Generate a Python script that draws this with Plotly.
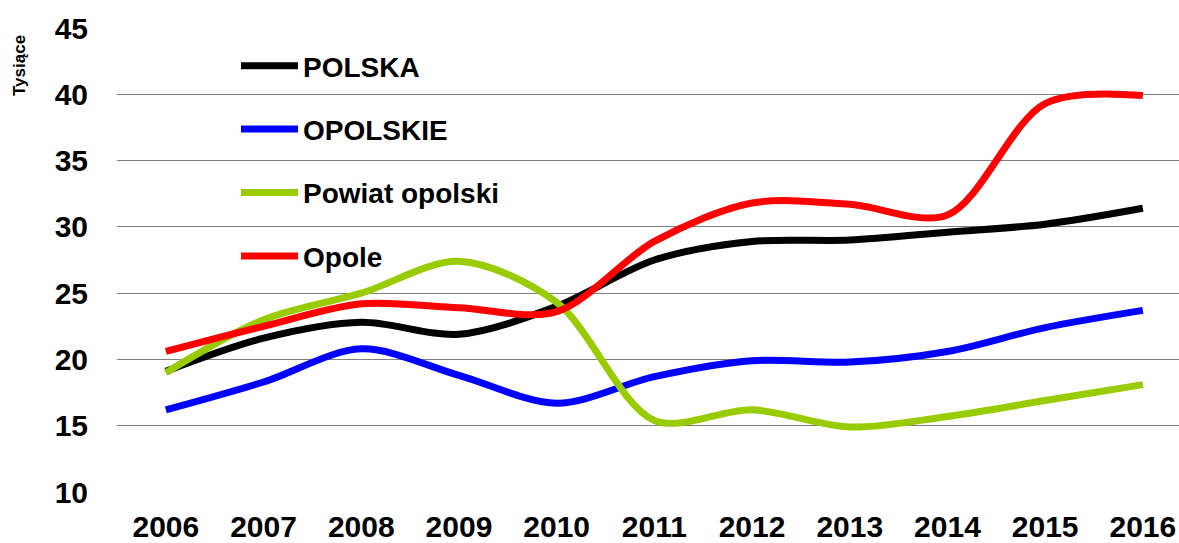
import plotly.graph_objects as go

years = ["2006", "2007", "2008", "2009", "2010", "2011", "2012", "2013", "2014", "2015", "2016"]
polska = [19.1, 21.6, 22.8, 21.9, 24.0, 27.5, 28.9, 29.0, 29.6, 30.2, 31.4]
opolskie = [16.2, 18.3, 20.8, 18.8, 16.7, 18.7, 19.9, 19.8, 20.6, 22.4, 23.7]
powiat = [19.0, 23.0, 25.0, 27.4, 24.3, 15.4, 16.2, 14.9, 15.7, 16.9, 18.1]
opole = [20.6, 22.5, 24.2, 23.9, 23.6, 28.9, 31.8, 31.7, 30.9, 39.3, 39.9]

series = [
    ("POLSKA", polska, "#000000"),
    ("OPOLSKIE", opolskie, "#0000FF"),
    ("Powiat opolski", powiat, "#99CC00"),
    ("Opole", opole, "#FF0000"),
]

FONT = "Arial, 'Liberation Sans', sans-serif"

fig = go.Figure()
for i, (name, vals, col) in enumerate(series):
    fig.add_trace(go.Scatter(
        x=list(range(len(years))), y=vals, name=name, mode="lines",
        line=dict(color=col, width=7, shape="spline", smoothing=0.9),
        legendgroup=f"g{i}",
    ))

W, H = 1179, 543
L, T, B = 117, 28, 51
PW, PH = W - L, H - T - B

fig.update_layout(
    width=W, height=H,
    margin=dict(l=L, r=0, t=T, b=B),
    paper_bgcolor="white", plot_bgcolor="white",
    font=dict(family=FONT, color="black"),
    showlegend=True,
    legend=dict(
        x=(236 - L) / PW, y=0.972, xanchor="left", yanchor="top",
        bgcolor="rgba(0,0,0,0)", traceorder="grouped", tracegroupgap=24,
        itemwidth=57,
        font=dict(size=28, family=FONT, weight="bold"),
    ),
    xaxis=dict(
        range=[-0.5, 10.37], tickmode="array",
        tickvals=list(range(len(years))), ticktext=years,
        showgrid=False, zeroline=False, showline=False,
        tickfont=dict(size=30, family=FONT, weight="bold"),
        ticks="", ticklabelstandoff=14,
    ),
    yaxis=dict(
        range=[10, 45], dtick=5, tick0=10,
        showgrid=True, gridcolor="#808080", gridwidth=1,
        zeroline=False, showline=False,
        tickfont=dict(size=30, family=FONT, weight="bold"),
        ticks="", ticklabelstandoff=28,
    ),
    annotations=[dict(
        text="Tysiące", textangle=-90, xref="paper", yref="paper",
        x=(20 - L) / PW, y=(PH - (66 - T)) / PH, xanchor="center", yanchor="middle",
        showarrow=False, font=dict(size=17, family=FONT, weight="bold"),
    )],
)

fig.write_html(
    "out.html",
    config={"displayModeBar": False},
    post_script="document.body.style.margin='0';document.body.style.overflow='hidden';",
)
